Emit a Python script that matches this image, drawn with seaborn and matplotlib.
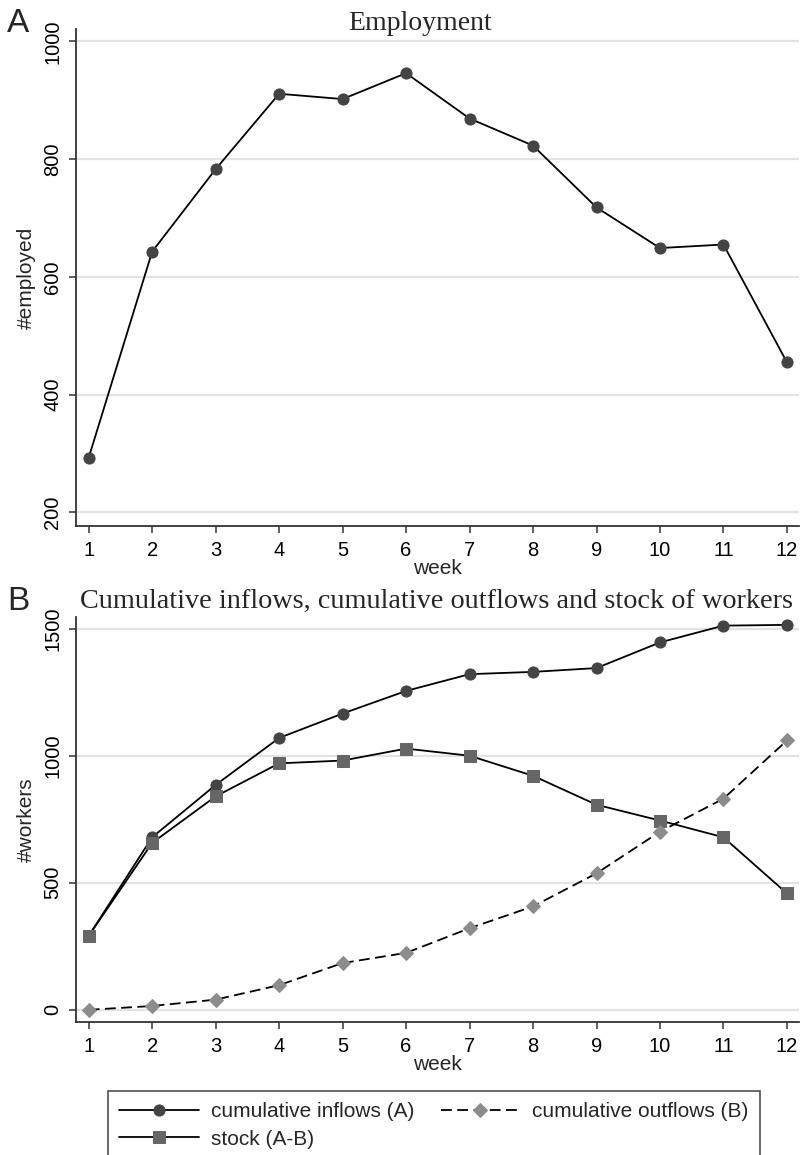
import numpy as np
import pandas as pd
import matplotlib
matplotlib.use("Agg")
import matplotlib.pyplot as plt
import seaborn as sns

# ---- data ----
weeks = list(range(1, 13))
employed = [293, 643, 783, 911, 902, 946, 869, 823, 718, 649, 655, 455]
cum_inflows = [291, 679, 885, 1070, 1166, 1255, 1321, 1330, 1345, 1446, 1512, 1515]
cum_outflows = [0, 15, 40, 97, 184, 224, 321, 407, 537, 701, 831, 1060]
stock = [291, 657, 840, 970, 981, 1028, 1000, 921, 807, 745, 679, 458]
top_yticks = [200, 400, 600, 800, 1000]
bot_yticks = [0, 500, 1000, 1500]

sns.set_theme(style="white")
plt.rcParams['font.family'] = ['Liberation Sans', 'DejaVu Sans']

W, H = 802, 1155
fig = plt.figure(figsize=(W / 100, H / 100), dpi=100)

def px_rect(l, t, r, b):
    return [l / W, 1 - b / H, (r - l) / W, (b - t) / H]

ax1 = fig.add_axes(px_rect(76, 29, 799, 526))
ax2 = fig.add_axes(px_rect(76, 617, 799, 1022))

TICKFS = 14.5
LABFS = 15
SERIF = ['Liberation Serif', 'DejaVu Serif']

def style(ax, yticks, ylim, ylabel):
    ax.set_xlim(0.8, 12.19)
    ax.set_ylim(*ylim)
    ax.set_xticks(weeks)
    ax.set_yticks(yticks)
    ax.yaxis.grid(True, color='#e3e3e3', linewidth=1.6)
    ax.xaxis.grid(False)
    ax.set_axisbelow(True)
    for s in ['top', 'right']:
        ax.spines[s].set_visible(False)
    for s in ['left', 'bottom']:
        ax.spines[s].set_color('#333333')
        ax.spines[s].set_linewidth(1.3)
    ax.tick_params(axis='both', which='both', direction='out', length=5,
                   width=1.1, color='#333333', labelsize=TICKFS, labelcolor='black',
                   left=True, bottom=True)
    ax.tick_params(axis='x', pad=6)
    ax.tick_params(axis='y', pad=5)
    for lab in ax.get_yticklabels():
        lab.set_rotation(90)
        lab.set_va('center')
    ax.set_xlabel('week', fontsize=LABFS, labelpad=-1)
    ax.set_ylabel(ylabel, fontsize=LABFS, labelpad=5)
    ax.set_facecolor('white')

# top panel
sns.lineplot(x=weeks, y=employed, ax=ax1, color='black', linewidth=1.3,
             marker='o', markersize=8, markerfacecolor='#444444',
             markeredgecolor='#444444')
style(ax1, top_yticks, (177, 1021), '#employed')

# bottom panel
sns.lineplot(x=weeks, y=cum_inflows, ax=ax2, color='black', linewidth=1.3,
             marker='o', markersize=8, markerfacecolor='#444444',
             markeredgecolor='#444444', label='cumulative inflows (A)')
sns.lineplot(x=weeks, y=stock, ax=ax2, color='black', linewidth=1.3,
             marker='s', markersize=8.5, markerfacecolor='#666666',
             markeredgecolor='#666666', label='stock (A-B)')
sns.lineplot(x=weeks, y=cum_outflows, ax=ax2, color='black', linewidth=1.3,
             marker='D', markersize=7.5, markerfacecolor='#8c8c8c',
             markeredgecolor='#8c8c8c', dashes=False, linestyle=(0, (6, 3)),
             label='cumulative outflows (B)')
style(ax2, bot_yticks, (-48, 1546), '#workers')

handles, labels = ax2.get_legend_handles_labels()
if ax2.legend_:
    ax2.legend_.remove()
leg = fig.legend(handles, labels,
                 ncol=2, loc='upper left', bbox_to_anchor=(108 / W, 1 - 1091 / H),
                 fontsize=LABFS, frameon=True, fancybox=False, handlelength=3.8,
                 columnspacing=1.25, borderpad=0.55, labelspacing=0.4,
                 handletextpad=0.6, borderaxespad=0)
leg.get_frame().set_edgecolor('#222222')
leg.get_frame().set_linewidth(1.2)

# titles and panel letters
fig.text(420 / W, 1 - 24 / H, 'Employment', ha='center', va='center',
         fontsize=20, family=SERIF)
fig.text(436 / W, 1 - 601 / H, 'Cumulative inflows, cumulative outflows and stock of workers',
         ha='center', va='center', fontsize=20.3, family=SERIF)
fig.text(7 / W, 1 - 23 / H, 'A', ha='left', va='center', fontsize=24)
fig.text(7 / W, 1 - 602 / H, 'B', ha='left', va='center', fontsize=24)

fig.savefig('out.png', dpi=100, facecolor='white')
